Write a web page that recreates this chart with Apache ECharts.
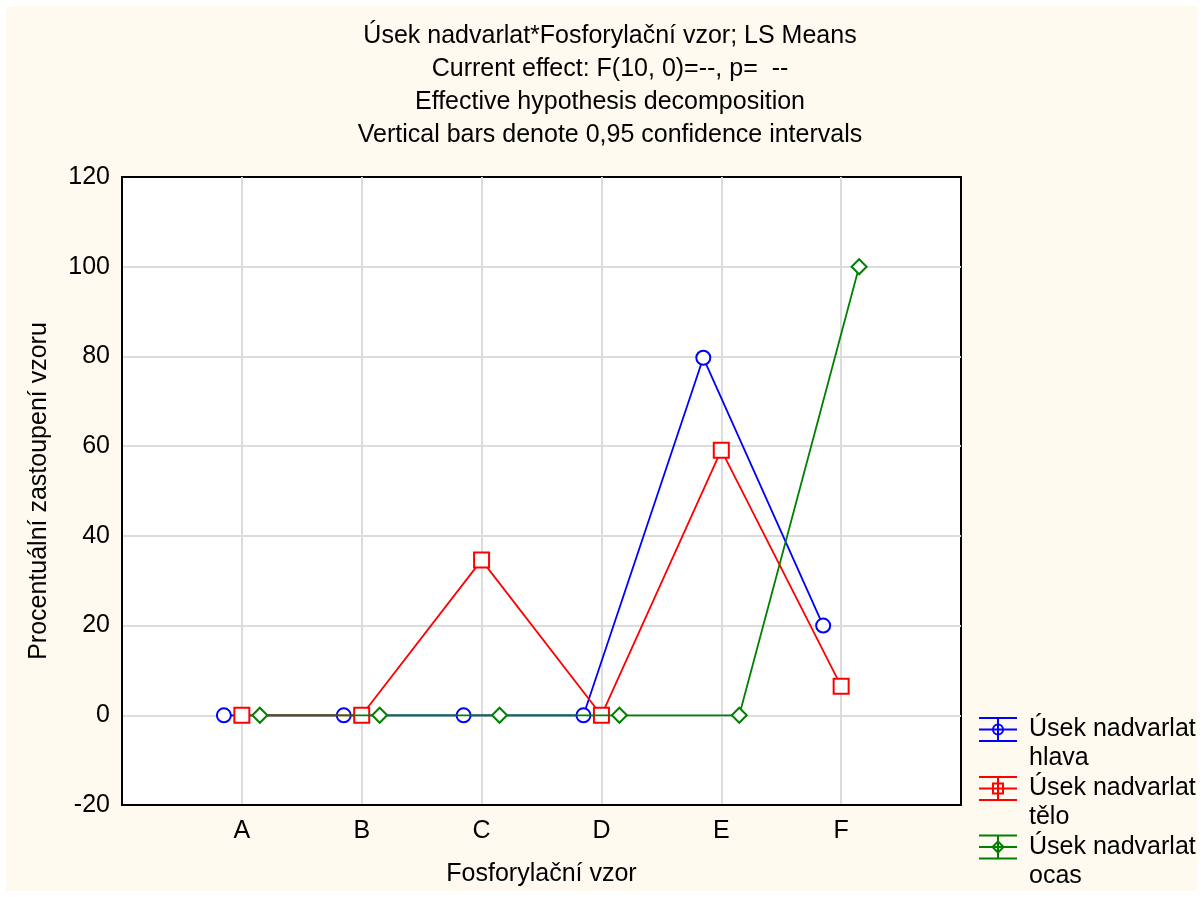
<!DOCTYPE html>
<html>
<head>
<meta charset="utf-8">
<script src="https://cdn.jsdelivr.net/npm/echarts@6/dist/echarts.min.js"></script>
<style>
html,body{margin:0;padding:0;background:#fff;}
#c{width:1203px;height:897px;}
</style>
</head>
<body>
<div id="c"></div>
<script>
// ---- data ----
const categories = ['A', 'B', 'C', 'D', 'E', 'F'];
const seriesNames = ['Úsek nadvarlat hlava', 'Úsek nadvarlat tělo', 'Úsek nadvarlat ocas'];
const hlava = [0, 0, 0, 0, 79.7, 20];
const telo = [0, 0, 34.6, 0, 59.1, 6.5];
const ocas = [0, 0, 0, 0, 0, 100];
const yTicks = [-20, 0, 20, 40, 60, 80, 100, 120];
const titleLines = [
  'Úsek nadvarlat*Fosforylační vzor; LS Means',
  'Current effect: F(10, 0)=--, p=  --',
  'Effective hypothesis decomposition',
  'Vertical bars denote 0,95 confidence intervals'
];

const FONT = '"Liberation Sans", Arial, Helvetica, sans-serif';
const colors = ['#0000ff', '#ff0000', '#008000'];
const symbols = ['emptyCircle', 'emptyRect', 'emptyDiamond'];
const symbolSizes = [14, 15, 15];
const offsets = [-0.15, 0, 0.15];
const values = [hlava, telo, ocas];

function toPoints(vals, off) {
  return vals.map((v, i) => [i + 1 + off, v]);
}

const series = values.map((vals, k) => ({
  name: seriesNames[k],
  type: 'line',
  data: toPoints(vals, offsets[k]),
  symbol: symbols[k],
  symbolSize: symbolSizes[k],
  showSymbol: true,
  lineStyle: { color: colors[k], width: 1.8 },
  itemStyle: { color: colors[k], borderColor: colors[k], borderWidth: 2 },
  emphasis: { disabled: true },
  z: 3 + k
}));

// custom legend (error-bar style icons)
const legendX = 979, legendW = 38, legendTextX = 1029;
const legendCY = [729.5, 788.5, 847];
const legendLabels = [['Úsek nadvarlat', 'hlava'], ['Úsek nadvarlat', 'tělo'], ['Úsek nadvarlat', 'ocas']];
const graphic = [{
  type: 'rect', z: -10, silent: true,
  shape: { x: 6, y: 6, width: 1191, height: 885 },
  style: { fill: '#fffaf0' }
}];
legendCY.forEach((cy, k) => {
  const c = colors[k];
  const cx = legendX + legendW / 2;
  [-11.5, 0, 11.5].forEach(dy => {
    graphic.push({ type: 'line', shape: { x1: legendX, y1: cy + dy, x2: legendX + legendW, y2: cy + dy }, style: { stroke: c, lineWidth: 2 } });
  });
  graphic.push({ type: 'line', shape: { x1: cx, y1: cy - 11.5, x2: cx, y2: cy + 11.5 }, style: { stroke: c, lineWidth: 2 } });
  if (k === 0) {
    graphic.push({ type: 'circle', shape: { cx: cx, cy: cy, r: 5 }, style: { fill: 'none', stroke: c, lineWidth: 2 } });
  } else if (k === 1) {
    graphic.push({ type: 'rect', shape: { x: cx - 5, y: cy - 5, width: 10, height: 10 }, style: { fill: 'none', stroke: c, lineWidth: 2 } });
  } else {
    graphic.push({ type: 'polygon', shape: { points: [[cx, cy - 5.5], [cx + 5.5, cy], [cx, cy + 5.5], [cx - 5.5, cy]] }, style: { fill: 'none', stroke: c, lineWidth: 2 } });
  }
  graphic.push({
    type: 'text', x: legendTextX, y: cy - 14.5,
    style: { text: legendLabels[k].join('\n'), font: '25px ' + FONT, fill: '#000', lineHeight: 29, verticalAlign: 'top', align: 'left' }
  });
});

const chart = echarts.init(document.getElementById('c'), null, { renderer: 'canvas' });
chart.setOption({
  backgroundColor: '#ffffff',
  animation: false,
  title: {
    text: titleLines.join('\n'),
    left: 610,
    top: 20,
    textAlign: 'center',
    padding: 0,
    textStyle: { fontFamily: FONT, fontSize: 25, fontWeight: 'normal', color: '#000', lineHeight: 33 }
  },
  graphic: graphic,
  grid: {
    left: 122, top: 177, width: 839, height: 628,
    show: true, backgroundColor: '#ffffff', borderColor: '#000', borderWidth: 2
  },
  xAxis: {
    type: 'value', min: 0, max: 7, interval: 1,
    name: 'Fosforylační vzor', nameLocation: 'middle', nameGap: 57,
    nameTextStyle: { fontFamily: FONT, fontSize: 25, color: '#000' },
    axisLine: { show: true, onZero: false, lineStyle: { color: '#000', width: 2 } },
    axisTick: { show: false },
    axisLabel: {
      margin: 14, fontFamily: FONT, fontSize: 25, color: '#000',
      formatter: v => (v >= 1 && v <= categories.length && Number.isInteger(v)) ? categories[v - 1] : ''
    },
    splitLine: { show: true, showMinLine: false, showMaxLine: false, lineStyle: { color: '#dcdcdc', width: 2 } }
  },
  yAxis: {
    type: 'value', min: yTicks[0], max: yTicks[yTicks.length - 1], interval: 20,
    name: 'Procentuální zastoupení vzoru', nameLocation: 'middle', nameGap: 70,
    nameTextStyle: { fontFamily: FONT, fontSize: 25, color: '#000' },
    axisLine: { show: true, onZero: false, lineStyle: { color: '#000', width: 2 } },
    axisTick: { show: false },
    axisLabel: { margin: 12, fontFamily: FONT, fontSize: 25, color: '#000' },
    splitLine: { show: true, showMinLine: false, showMaxLine: false, lineStyle: { color: '#dcdcdc', width: 2 } }
  },
  series: series
});
</script>
</body>
</html>
